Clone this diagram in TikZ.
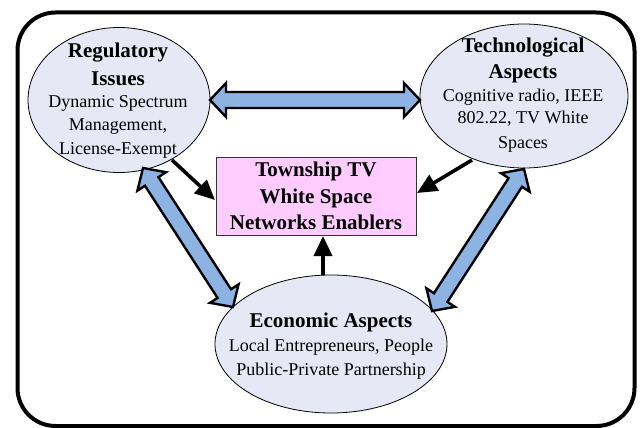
\documentclass[tikz,border=0pt]{standalone}
\usepackage{fontspec}
\setmainfont{Liberation Serif}
\usetikzlibrary{shapes.geometric,arrows.meta,calc}
\definecolor{ellfill}{HTML}{E6E8F6}
\definecolor{boxfill}{HTML}{FFCCFF}
\definecolor{fatblue}{HTML}{8DB3E2}
\tikzset{
  ell/.style={ellipse,draw=black,line width=0.8pt,fill=ellfill,inner sep=0pt},
  enabler/.style={rectangle,draw=black!80,line width=1pt,fill=boxfill,inner sep=0pt},
  btxt/.style={anchor=base,inner sep=0pt,font=\fontsize{21}{24}\selectfont\bfseries},
  rtxt/.style={anchor=base,inner sep=0pt,font=\fontsize{18}{21}\selectfont},
  blk/.style={line width=3.6pt,-{Triangle[length=20pt,width=18pt]}},
  fatstyle/.style={fill=fatblue,draw=black,line width=2.4pt,line join=miter}
}
\newcommand\fatarr[2]{%
  \coordinate (fa1) at ($(#1)!16pt!(#2)$);
  \coordinate (fa2) at ($(#2)!16pt!(#1)$);
  \filldraw[fatstyle] (#1) -- ($(fa1)!17pt!90:(#2)$) -- ($(fa1)!8pt!90:(#2)$)
    -- ($(fa2)!8pt!-90:(#1)$) -- ($(fa2)!17pt!-90:(#1)$) -- (#2)
    -- ($(fa2)!17pt!90:(#1)$) -- ($(fa2)!8pt!90:(#1)$)
    -- ($(fa1)!8pt!-90:(#2)$) -- ($(fa1)!17pt!-90:(#2)$) -- cycle;}
\begin{document}
\begin{tikzpicture}[x=1pt,y=-1pt]
\useasboundingbox (0,0) rectangle (643,428);
\draw[line width=4pt,rounded corners=38pt] (17.5,12.5) rectangle (634.5,426);

\node[ell,minimum width=182pt,minimum height=145pt] (reg) at (119,100) {};
\node[ell,minimum width=208pt,minimum height=144pt] (tech) at (524,96) {};
\node[ell,minimum width=232pt,minimum height=138pt] (econ) at (331,344) {};
\node[enabler,minimum width=200pt,minimum height=78pt] (box) at (316,196) {};

\node[btxt] (r1) at (118,58) {Regulatory};
\node[btxt] (r2) at (118,85) {Issues};
\node[rtxt] (r3) at (118,107) {Dynamic Spectrum};
\node[rtxt] (r4) at (118,130) {Management,};
\node[rtxt] (r5) at (118,154) {License-Exempt};

\node[btxt] (t1) at (523,53) {Technological};
\node[btxt] (t2) at (523,78) {Aspects};
\node[rtxt] (t3) at (523,102) {Cognitive radio, IEEE};
\node[rtxt] (t4) at (523,124) {802.22, TV White};
\node[rtxt] (t5) at (523,148) {Spaces};

\node[btxt] (e1) at (331,327) {Economic Aspects};
\node[rtxt] (e2) at (331,351) {Local Entrepreneurs, People};
\node[rtxt] (e3) at (331,375) {Public-Private Partnership};

\node[btxt] (b1) at (316,176) {Township TV};
\node[btxt] (b2) at (316,203) {White Space};
\node[btxt] (b3) at (316,229) {Networks Enablers};

\coordinate (hl) at (210,100);
\coordinate (hr) at (420,100);
\coordinate (ll1) at (143,168);
\coordinate (ll2) at (233,307);
\coordinate (rr1) at (524,169);
\coordinate (rr2) at (432,311);
\fatarr{hl}{hr}
\fatarr{ll1}{ll2}
\fatarr{rr1}{rr2}

\coordinate (rs) at (172,160);
\coordinate (re) at (215,200);
\coordinate (ts) at (472,160);
\coordinate (te) at (417,193);
\coordinate (es) at (323,275);
\coordinate (ee) at (323,236);
\draw[blk] (rs) -- (re);
\draw[blk] (ts) -- (te);
\draw[blk] (es) -- (ee);
\end{tikzpicture}
\end{document}
